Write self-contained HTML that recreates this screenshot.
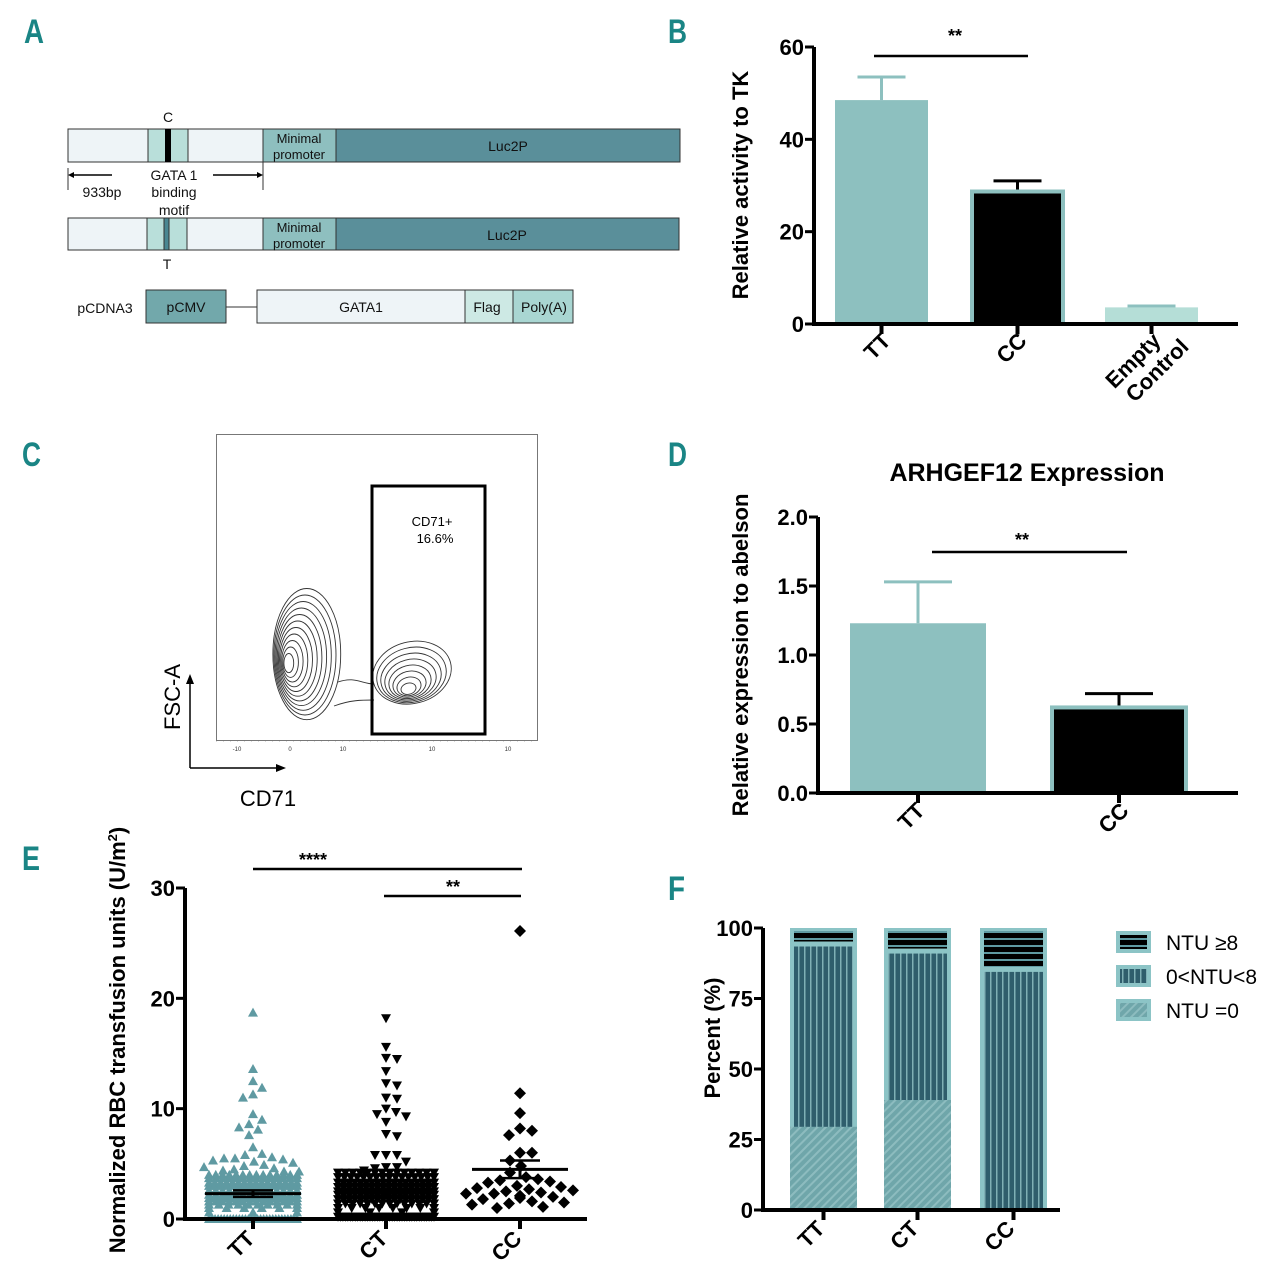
<!DOCTYPE html>
<html><head><meta charset="utf-8">
<style>
html,body{margin:0;padding:0;background:#fff;}
svg{display:block;font-family:"Liberation Sans",sans-serif;}
.tk{font-weight:bold;font-size:22px;}
.lt{font-weight:bold;font-size:34px;fill:#1a8585;}
</style></head>
<body>
<svg id="fig" width="1280" height="1274" viewBox="0 0 1280 1274" xmlns="http://www.w3.org/2000/svg">
<defs>
<pattern id="pDiag" width="6" height="6" patternUnits="userSpaceOnUse" patternTransform="rotate(45)">
<rect width="6" height="6" fill="#6fa6aa"/><rect width="2" height="6" fill="#8dbcbf"/></pattern>
<pattern id="pVert" width="6" height="6" patternUnits="userSpaceOnUse">
<rect width="6" height="6" fill="#2f5e6c"/><rect width="1.5" height="6" fill="#7fb0b5"/></pattern>
<pattern id="pHor" width="6" height="7" patternUnits="userSpaceOnUse">
<rect width="6" height="7" fill="#000"/><rect width="6" height="2" fill="#5f9aa2"/></pattern>
</defs>

<g>
<text class="lt" x="24" y="43" textLength="20" lengthAdjust="spacingAndGlyphs">A</text>
<text class="lt" x="668" y="43" textLength="19" lengthAdjust="spacingAndGlyphs">B</text>
<text class="lt" x="22" y="466" textLength="19" lengthAdjust="spacingAndGlyphs">C</text>
<text class="lt" x="668" y="466" textLength="19" lengthAdjust="spacingAndGlyphs">D</text>
<text class="lt" x="22" y="870" textLength="18" lengthAdjust="spacingAndGlyphs">E</text>
<text class="lt" x="668" y="900" textLength="17" lengthAdjust="spacingAndGlyphs">F</text>
</g>

<!-- Panel A -->
<g font-size="14" stroke="#333" stroke-width="1">
<g>
<rect x="68" y="129" width="195" height="33" fill="#eef4f7"/>
<rect x="148" y="129" width="40" height="33" fill="#b9dfda"/>
<rect x="165" y="129" width="6" height="33" fill="#000" stroke="none"/>
<rect x="263" y="129" width="73" height="33" fill="#8ebfbf"/>
<rect x="336" y="129" width="344" height="33" fill="#5a8f9a"/>
</g>
<line x1="68" y1="168" x2="68" y2="190"/><line x1="263" y1="162" x2="263" y2="190"/>
<line x1="70" y1="175" x2="112" y2="175" stroke="#000" stroke-width="1.5"/>
<polygon points="68,175 74,172 74,178" fill="#000" stroke="none"/>
<line x1="213" y1="175" x2="258" y2="175" stroke="#000" stroke-width="1.5"/>
<polygon points="263,175 257,172 257,178" fill="#000" stroke="none"/>
<g>
<rect x="68" y="218" width="195" height="32" fill="#eef4f7"/>
<rect x="147" y="218" width="40" height="32" fill="#b9dfda"/>
<rect x="164" y="218" width="5" height="32" fill="#4a8792"/>
<rect x="263" y="218" width="73" height="32" fill="#8ebfbf"/>
<rect x="336" y="218" width="343" height="32" fill="#5a8f9a"/>
</g>
<g>
<rect x="146" y="290" width="80" height="33" fill="#72a8ab"/>
<line x1="226" y1="307" x2="257" y2="307"/>
<rect x="257" y="290" width="208" height="33" fill="#eef4f7"/>
<rect x="465" y="290" width="48" height="33" fill="#cde9e4"/>
<rect x="513" y="290" width="60" height="33" fill="#a9d6d2"/>
</g>
<g stroke="none" fill="#111">
<text x="168" y="122" text-anchor="middle">C</text>
<text x="299" y="143" text-anchor="middle" font-size="13">Minimal</text>
<text x="299" y="159" text-anchor="middle" font-size="13">promoter</text>
<text x="508" y="151" text-anchor="middle">Luc2P</text>
<text x="102" y="197" text-anchor="middle">933bp</text>
<text x="174" y="180" text-anchor="middle">GATA 1</text>
<text x="174" y="197" text-anchor="middle">binding</text>
<text x="174" y="215" text-anchor="middle">motif</text>
<text x="167" y="269" text-anchor="middle">T</text>
<text x="299" y="232" text-anchor="middle" font-size="13">Minimal</text>
<text x="299" y="248" text-anchor="middle" font-size="13">promoter</text>
<text x="507" y="240" text-anchor="middle">Luc2P</text>
<text x="105" y="313" text-anchor="middle">pCDNA3</text>
<text x="186" y="312" text-anchor="middle">pCMV</text>
<text x="361" y="312" text-anchor="middle">GATA1</text>
<text x="487" y="312" text-anchor="middle">Flag</text>
<text x="544" y="312" text-anchor="middle">Poly(A)</text>
</g>
</g>

<!-- Panel C -->
<g>
<rect x="216.5" y="434.5" width="321" height="306" fill="none" stroke="#777" stroke-width="1"/>
<g id="contours" fill="none" stroke="#333" stroke-width="0.9"></g>
<path d="M338,682 C355,676 362,684 374,684 M334,706 C350,700 362,700 374,700" fill="none" stroke="#333" stroke-width="0.9"/>
<rect x="372" y="486" width="113" height="248" fill="none" stroke="#000" stroke-width="3"/>
<text x="432" y="526" text-anchor="middle" font-size="13">CD71+</text>
<text x="435" y="543" text-anchor="middle" font-size="13">16.6%</text>
<g font-size="6" fill="#333" text-anchor="middle">
<text x="237" y="751">-10</text><text x="290" y="751">0</text><text x="343" y="751">10</text><text x="432" y="751">10</text><text x="508" y="751">10</text>
</g>
<line x1="216" y1="741" x2="538" y2="741" stroke="#777" stroke-width="0.6" stroke-dasharray="1,6"/>
<line x1="190" y1="768" x2="190" y2="682" stroke="#000" stroke-width="1.5"/>
<polygon points="190,674 186,684 194,684" fill="#000"/>
<line x1="190" y1="768" x2="278" y2="768" stroke="#000" stroke-width="1.5"/>
<polygon points="286,768 276,764 276,772" fill="#000"/>
<text x="180" y="697" font-size="22" text-anchor="middle" transform="rotate(-90 180 697)">FSC-A</text>
<text x="268" y="806" font-size="22" text-anchor="middle">CD71</text>
</g>

<g id="charts"></g>
</svg>

<script>
// ---------- Panel B data ----------
const bCats = ["TT","CC","Empty Control"];
const bVals = [48.5, 28.7, 3.6];
const bErr  = [53.5, 31.0, 3.9];
const bTicks = [0,20,40,60];
// ---------- Panel D data ----------
const dCats = ["TT","CC"];
const dVals = [1.23, 0.62];
const dErr  = [1.53, 0.72];
const dTicks = ["0.0","0.5","1.0","1.5","2.0"];
// ---------- Panel E data ----------
const eCats = ["TT","CT","CC"];
const eTTOut = [18.7,13.6,12.5,11.9,11.3,11.0,9.5,9.0,8.6,8.3,8.1,7.6,6.5,5.9,5.8,5.6,5.5,5.5,5.4,5.3,5.2,5.1,4.9,4.8,4.7,4.6,4.5,4.4,4.3,4.3];
const eTTLevels = [4.0,3.7,3.3,3.0,2.6,2.2,1.9,1.6,1.3,1.0,0.6,0.0];
const eTTCounts = [14,14,16,16,14,14,16,14,10,6,3,30];
const eCTOut = [18.2,15.6,14.6,14.5,13.4,12.3,12.1,11.0,10.9,10.0,9.7,9.5,9.3,8.8,7.7,7.5,5.8,5.8,5.8,5.2,4.7,4.7,4.6,4.4];
const eCTLevels = [4.2,3.8,3.3,2.9,2.5,2.2,1.8,1.4,1.0,0.6,0.2];
const eCTCounts = [14,16,18,18,18,18,18,14,8,4,40];
const eCCOut = [26.1,11.4,9.6,8.2,8.0,7.6,6.0,6.0,5.3,4.8,4.2,3.8,3.6,3.5,3.4,3.3,3.0,2.9,2.8,2.7,2.6,2.5,2.4,2.3,2.3,2.1,2.1,2.0,1.9,1.8,1.6,1.5,1.4,1.3,1.1,1.0];
const eMean = [2.3, 2.4, 4.5];
const eSemLo = [2.0, 2.1, 3.7];
const eSemHi = [2.6, 2.7, 5.3];
const eTicks = [0,10,20,30];
// ---------- Panel F data ----------
const fCats = ["TT","CT","CC"];
const fZero = [29.5, 39, 0];
const fMid  = [65, 53, 85.5];
const fHigh = [5.5, 8, 14.5];
const fTicks = [0,25,50,75,100];
const fLegend = ["NTU \u22658","0<NTU<8","NTU =0"];

const NS="http://www.w3.org/2000/svg";
const root=document.getElementById('charts');
function mk(tag,attrs,parent){const e=document.createElementNS(NS,tag);for(const k in attrs)e.setAttribute(k,attrs[k]);(parent||root).appendChild(e);return e;}
function txt(s,attrs,parent){const e=mk('text',attrs,parent);e.textContent=s;return e;}

(function(){
 const g=document.getElementById('contours');
 for(let i=1;i<=11;i++){
  const cx=287+i*1.8, cy=664-i*0.9;
  const e=mk('ellipse',{cx:cx,cy:cy,rx:2+i*2.9,ry:4+i*5.6},g);
  
  
 }
 for(let i=1;i<=8;i++){
  const cx=408+i*0.5, cy=691-i*2.3;
  const e=mk('ellipse',{cx:cx,cy:cy,rx:3+i*4.6,ry:2+i*3.6,transform:`rotate(-15 ${cx} ${cy})`},g);
  
  
 }
})();

function yAxis(g,x,y0,y1,ticks,scale,fs){
 const a=mk('line',{x1:x,y1:y0+2,x2:x,y2:y1,stroke:'#000','stroke-width':4},g);
 
 
 ticks.forEach(t=>{const y=scale(+t);
  mk('line',{x1:x-9,y1:y,x2:x,y2:y,stroke:'#000','stroke-width':3},g);
  const l=txt(String(t),{x:x-10,y:y+8,'text-anchor':'end',class:'tk','font-size':fs||22},g);
  
  
 });
}
function xLabel(g,s,x,y){
 const l=txt(s,{x:x,y:y,'text-anchor':'end',class:'tk',transform:`rotate(-45 ${x} ${y})`},g);
 
 
}

// ---------- Panel B ----------
(function(){
 const g=mk('g',{});
 
 
 const y=v=>324-v*(324-47)/60;
 const x0=[835,972,1105], w=[93,91,93];
 bCats.forEach((c,i)=>{
  const cx=x0[i]+w[i]/2;
  let fill=i===0?'#8dc0bf':(i===1?'#000':'#b5ded7');
  mk('line',{x1:cx,y1:y(bVals[i]),x2:cx,y2:y(bErr[i]),stroke:i===1?'#000':'#8dc0bf','stroke-width':3},g);
  mk('line',{x1:cx-24,y1:y(bErr[i]),x2:cx+24,y2:y(bErr[i]),stroke:i===1?'#000':'#8dc0bf','stroke-width':3},g);
  const r=mk('rect',{x:x0[i],y:y(bVals[i]),width:w[i],height:324-y(bVals[i]),fill:fill,stroke:i===1?'#8dc0bf':'none','stroke-width':4},g);
  
  
  mk('line',{x1:cx,y1:324,x2:cx,y2:334,stroke:'#000','stroke-width':4},g);
 });
 yAxis(g,814,324,47,bTicks,y);
 const xa=mk('line',{x1:812,y1:324,x2:1238,y2:324,stroke:'#000','stroke-width':4},g);
 
 
 xLabel(g,'TT',892,342);xLabel(g,'CC',1028,342);
 xLabel(g,'Empty',1162,342);xLabel(g,'Control',1190,348);
 mk('line',{x1:874,y1:56,x2:1028,y2:56,stroke:'#000','stroke-width':2.5},g);
 txt('**',{x:955,y:42,'text-anchor':'middle','font-size':18,'font-weight':'bold'},g);
 const t=txt('Relative activity  to TK',{x:748,y:185,'text-anchor':'middle',class:'tk','font-size':22,transform:'rotate(-90 748 185)'},g);
 
 
})();

// ---------- Panel D ----------
(function(){
 const g=mk('g',{});
 
 
 const y=v=>793-v*(793-517)/2;
 const x0=[850,1052], w=[136,134];
 dCats.forEach((c,i)=>{
  const cx=x0[i]+w[i]/2, col=i===0?'#8dc0bf':'#000';
  mk('line',{x1:cx,y1:y(dVals[i]),x2:cx,y2:y(dErr[i]),stroke:col,'stroke-width':3},g);
  mk('line',{x1:cx-34,y1:y(dErr[i]),x2:cx+34,y2:y(dErr[i]),stroke:col,'stroke-width':3},g);
  const r=mk('rect',{x:x0[i],y:y(dVals[i]),width:w[i],height:793-y(dVals[i]),fill:i===0?'#8dc0bf':'#000',stroke:i===1?'#8dc0bf':'none','stroke-width':4},g);
  
  
  mk('line',{x1:cx,y1:793,x2:cx,y2:803,stroke:'#000','stroke-width':4},g);
 });
 yAxis(g,818,793,517,dTicks,y);
 const xa=mk('line',{x1:816,y1:793,x2:1238,y2:793,stroke:'#000','stroke-width':4},g);
 
 
 xLabel(g,'TT',926,812);xLabel(g,'CC',1130,812);
 mk('line',{x1:932,y1:552,x2:1127,y2:552,stroke:'#000','stroke-width':2.5},g);
 txt('**',{x:1022,y:546,'text-anchor':'middle','font-size':18,'font-weight':'bold'},g);
 const ti=txt('ARHGEF12 Expression',{x:1027,y:481,'text-anchor':'middle','font-size':25,'font-weight':'bold'},g);
 
 
 const t=txt('Relative expression  to abelson',{x:748,y:655,'text-anchor':'middle',class:'tk','font-size':21,transform:'rotate(-90 748 655)'},g);
 
 
})();

// ---------- Panel E ----------
(function(){
 const g=mk('g',{});
 
 
 const y=v=>1219-v*(1219-888)/30;
 const cxs=[253,386,520];
 const cols=['#5f9aa2','#000','#000'];
 function marker(gi,px,py){
  let m;
  if(gi===0) m=mk('polygon',{points:`${px},${py-5} ${px-5},${py+4} ${px+5},${py+4}`,fill:cols[gi]},g);
  else if(gi===1) m=mk('polygon',{points:`${px},${py+5} ${px-5},${py-4} ${px+5},${py-4}`,fill:cols[gi]},g);
  else m=mk('polygon',{points:`${px},${py-6} ${px+6},${py} ${px},${py+6} ${px-6},${py}`,fill:cols[gi]},g);
  
  
 }
 const dense=[[eTTLevels,eTTCounts],[eCTLevels,eCTCounts],[[],[]]];
 const outs=[eTTOut,eCTOut,eCCOut];
 [0,1,2].forEach(gi=>{
  const cx=cxs[gi];
  // dense rows spread evenly
  dense[gi][0].forEach((v,i)=>{
   const n=dense[gi][1][i], half=gi===0?44:48;
   for(let k=0;k<n;k++){
    const off=n>1?-half+2*half*k/(n-1):0;
    marker(gi,cx+off,y(v));
   }
  });
  // beeswarm for sparse values
  const placed=[], d=gi===2?12:10.5;
  outs[gi].slice().sort((a,b)=>b-a).forEach(v=>{
   const py=y(v);
   let best=0;
   for(let s=0;s<=60;s+=1){
    let ok=null;
    for(const o of [s,-s]){
     if(placed.every(p=>Math.hypot(p[0]-o,p[1]-py)>=d)){ok=o;break;}
    }
    if(ok!==null){best=ok;break;}
   }
   placed.push([best,py]);
   marker(gi,cx+best,py);
  });
  const ml=mk('line',{x1:cx-48,y1:y(eMean[gi]),x2:cx+48,y2:y(eMean[gi]),stroke:'#000','stroke-width':3},g);
  
  
  mk('line',{x1:cx,y1:y(eSemLo[gi]),x2:cx,y2:y(eSemHi[gi]),stroke:'#000','stroke-width':3},g);
  mk('line',{x1:cx-20,y1:y(eSemLo[gi]),x2:cx+20,y2:y(eSemLo[gi]),stroke:'#000','stroke-width':2.5},g);
  mk('line',{x1:cx-20,y1:y(eSemHi[gi]),x2:cx+20,y2:y(eSemHi[gi]),stroke:'#000','stroke-width':2.5},g);
  mk('line',{x1:cx,y1:1219,x2:cx,y2:1229,stroke:'#000','stroke-width':4},g);
 });
 yAxis(g,185,1219,888,eTicks,y,24);
 const xa=mk('line',{x1:183,y1:1219,x2:587,y2:1219,stroke:'#000','stroke-width':4},g);
 
 
 xLabel(g,'TT',256,1240);xLabel(g,'CT',389,1240);xLabel(g,'CC',523,1240);
 mk('line',{x1:253,y1:869,x2:522,y2:869,stroke:'#000','stroke-width':2.5},g);
 txt('****',{x:313,y:866,'text-anchor':'middle','font-size':18,'font-weight':'bold'},g);
 mk('line',{x1:384,y1:896,x2:521,y2:896,stroke:'#000','stroke-width':2.5},g);
 txt('**',{x:453,y:893,'text-anchor':'middle','font-size':18,'font-weight':'bold'},g);
 const t=txt('Normalized RBC transfusion units (U/m',{x:125,y:1040,'text-anchor':'middle',class:'tk','font-size':20,transform:'rotate(-90 125 1040)'},g);
 const s1=document.createElementNS(NS,'tspan');s1.setAttribute('dy','-8');s1.setAttribute('font-size','13');s1.textContent='2';t.appendChild(s1);
 const s2=document.createElementNS(NS,'tspan');s2.setAttribute('dy','8');s2.textContent=')';t.appendChild(s2);
 
 
})();

// ---------- Panel F ----------
(function(){
 const g=mk('g',{});
 
 
 const y=v=>1210-v*(1210-928)/100;
 const x0=[790,884,980], w=67;
 fCats.forEach((c,i)=>{
  const xb=x0[i], cx=xb+w/2;
  const bg=mk('rect',{x:xb,y:y(100),width:w,height:1210-y(100),fill:'#8cc4c6'},g);
  
  
  if(fZero[i]>0){const r=mk('rect',{x:xb,y:y(fZero[i]),width:w,height:1210-y(fZero[i]),fill:'url(#pDiag)'},g);
   
   }
  const m0=fZero[i], m1=fZero[i]+fMid[i];
  const r2=mk('rect',{x:xb+4,y:y(m1)+3,width:w-8,height:y(m0)-y(m1)-3,fill:'url(#pVert)'},g);
  
  
  const r3=mk('rect',{x:xb+4,y:y(m1+fHigh[i])+3,width:w-8,height:y(m1)-y(m1+fHigh[i])-5,fill:'url(#pHor)'},g);
  
  
  mk('line',{x1:cx,y1:1210,x2:cx,y2:1220,stroke:'#000','stroke-width':4},g);
 });
 yAxis(g,763,1210,928,fTicks,y,22);
 const xa=mk('line',{x1:761,y1:1210,x2:1060,y2:1210,stroke:'#000','stroke-width':4},g);
 
 
 xLabel(g,'TT',826,1230);xLabel(g,'CT',920,1230);xLabel(g,'CC',1016,1230);
 const t=txt('Percent (%)',{x:720,y:1038,'text-anchor':'middle',class:'tk','font-size':21,transform:'rotate(-90 720 1038)'},g);
 
 
 const fills=['url(#pHor)','url(#pVert)','url(#pDiag)'];
 fLegend.forEach((s,i)=>{
  const ly=931+i*34;
  const lg=mk('g',{},g);
  
  
  mk('rect',{x:1116,y:ly,width:35,height:22,fill:'#8cc4c6'},lg);
  mk('rect',{x:1120,y:ly+4,width:27,height:14,fill:fills[i]},lg);
  txt(s,{x:1166,y:ly+19,'font-size':21},lg);
 });
})();
</script>
</body></html>
